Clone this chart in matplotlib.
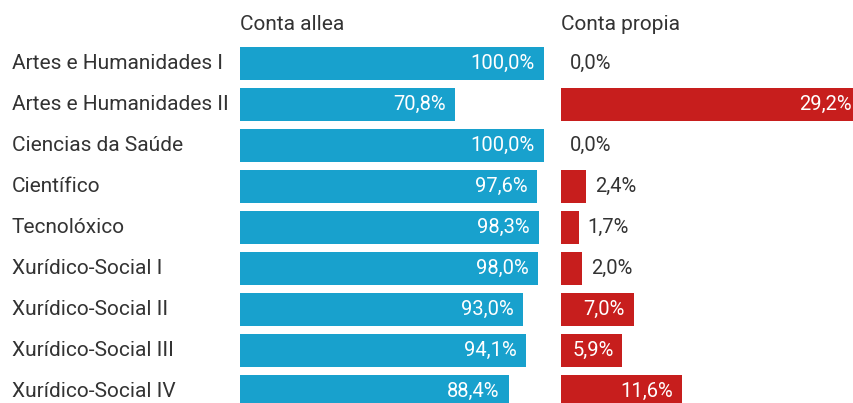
import matplotlib.pyplot as plt

plt.rcParams['font.family'] = ['Roboto', 'DejaVu Sans']

categorias = ['Artes e Humanidades I', 'Artes e Humanidades II', 'Ciencias da Saúde',
              'Científico', 'Tecnolóxico', 'Xurídico-Social I', 'Xurídico-Social II',
              'Xurídico-Social III', 'Xurídico-Social IV']
conta_allea = [100.0, 70.8, 100.0, 97.6, 98.3, 98.0, 93.0, 94.1, 88.4]
conta_propia = [0.0, 29.2, 0.0, 2.4, 1.7, 2.0, 7.0, 5.9, 11.6]

azul = '#18a1cd'
vermello = '#c71e1d'
texto = '#333333'

W, H = 854, 403
fig = plt.figure(figsize=(W / 100, H / 100), dpi=100)

# row i centre at 63.5 + 41*i px from top
top_px, bot_px = 43, 43 + 41 * 9
ax_b = (H - bot_px) / H
ax_h = (bot_px - top_px) / H
bar_w = 304


def fmt(v):
    return f'{v:.1f}'.replace('.', ',') + '%'


def panel(x0, valores, cor, vmax, titulo):
    ax = fig.add_axes([x0 / W, ax_b, bar_w / W, ax_h])
    y = list(range(len(valores)))
    ax.barh(y, valores, height=0.8, color=cor, edgecolor='none')
    ax.set_xlim(0, vmax)
    ax.set_ylim(len(valores) - 0.5, -0.5)
    ax.axis('off')
    px = vmax / bar_w  # data units per pixel
    visivel = (W - x0 - 2) * px
    for i, v in enumerate(valores):
        lab = fmt(v)
        if v / px > 50:
            ax.text(min(v - 9 * px, visivel), i, lab, ha='right', va='center',
                    color='white', fontsize=14.5)
        else:
            ax.text(v + 9 * px, i, lab, ha='left', va='center', color=texto, fontsize=14.5)
    fig.text(x0 / W, 1 - 25 / H, titulo, ha='left', va='center', color=texto, fontsize=15)
    return ax


ax1 = panel(240, conta_allea, azul, 100, 'Conta allea')
ax2 = panel(561, conta_propia, vermello, 29.2, 'Conta propia')

for i, c in enumerate(categorias):
    ax1.text(-228 * 100 / bar_w, i, c, ha='left', va='center', color=texto, fontsize=15)

fig.savefig('out.png', dpi=100)
